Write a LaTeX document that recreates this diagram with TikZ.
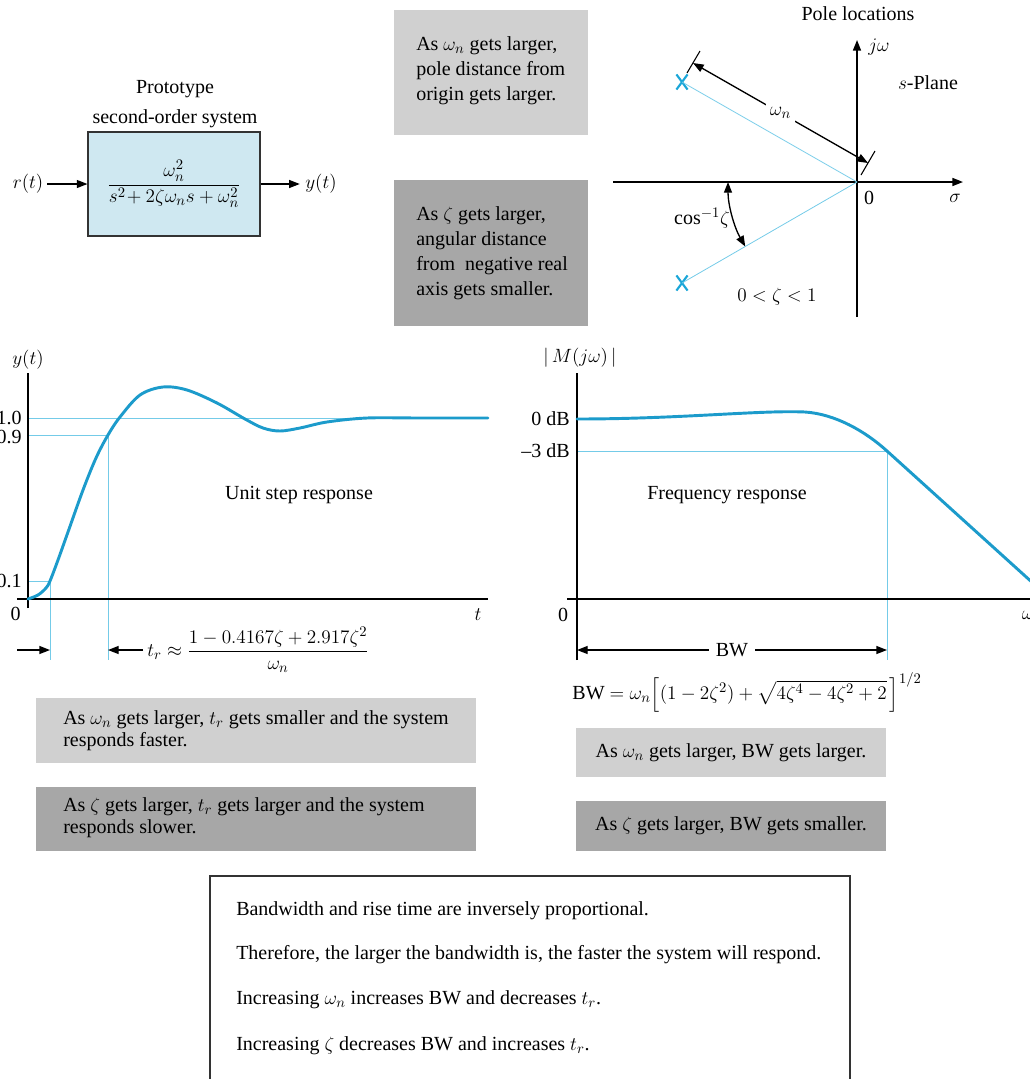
\documentclass[tikz,border=0pt]{standalone}
\usepackage{amsmath}
\usepackage{fontspec}
\setmainfont{Liberation Serif}
\usetikzlibrary{arrows.meta,shapes.misc,calc}
\newdimen\px \px=0.75pt
\definecolor{boxblue}{HTML}{CFE8F1}
\definecolor{curveblue}{HTML}{1C9BCB}
\definecolor{thinblue}{HTML}{74CBE8}
\definecolor{poleblue}{HTML}{1AA6D8}
\definecolor{lgray}{HTML}{D0D0D0}
\definecolor{dgray}{HTML}{A7A7A7}
\begin{document}
\begin{tikzpicture}[x=0.75pt,y=-0.75pt,
  txt/.style={font=\fontsize{15}{18}\selectfont, inner sep=0pt},
  axisline/.style={line width=1.2pt, black},
  guide/.style={thinblue, line width=0.6pt},
  resp/.style={curveblue, line width=2.2pt, line cap=round, line join=round},
  tip/.style={-{Triangle[length=8pt,width=6pt]}},
  dtip/.style={{Triangle[length=8pt,width=6pt]}-{Triangle[length=8pt,width=6pt]}},
  lbox/.style={fill=lgray, draw=none, anchor=north west, inner sep=0pt},
  dbox/.style={fill=dgray, draw=none, anchor=north west, inner sep=0pt},
  pole/.style={cross out, draw=poleblue, line width=1.6pt, minimum width=9\px, minimum height=13\px, inner sep=0pt}
]
\useasboundingbox (0,0) rectangle (1029,1079);

% ---------- block diagram ----------
\node[txt, align=center, font=\fontsize{15}{23}\selectfont] (title) at (175,104) {Prototype\\second-order system};
\node[draw=black!80, fill=boxblue, line width=0.8pt, minimum width=172\px, minimum height=104\px, inner sep=0pt, txt] (sys) at (174,184)
  {$\dfrac{\omega_n^2}{s^2\!+ 2\zeta\omega_n s + \omega_n^2}$};
\node[txt, inner xsep=3pt] (r) at (28,184) {$r(t)$};
\node[txt, inner xsep=4pt] (y) at (321,184) {$y(t)$};
\draw[tip, line width=0.9pt] (r) -- (sys);
\draw[tip, line width=0.9pt] (sys) -- (y);

% ---------- top info boxes ----------
\node[lbox, minimum width=194\px, minimum height=125\px] (b1) at (394,10) {};
\node[txt, anchor=west, align=left, font=\fontsize{15}{18.75}\selectfont] (b1t) at (416,71) {As $\omega_n$ gets larger,\\pole distance from\\origin gets larger.};
\node[dbox, minimum width=194\px, minimum height=146\px] (b2) at (394,180) {};
\node[txt, anchor=west, align=left, font=\fontsize{15}{18.75}\selectfont] (b2t) at (416,253) {As $\zeta$ gets larger,\\angular distance\\from\ \ negative real\\axis gets smaller.};

% ---------- s-plane ----------
\coordinate (O) at (857,182);
\coordinate (sl) at (613,182);
\coordinate (sr) at (963,182);
\coordinate (jb) at (857,317);
\coordinate (jt) at (857,40);
\draw[axisline, tip] (sl) -- (sr);
\draw[axisline, tip] (jb) -- (jt);
\node[txt] (pl) at (858,14) {Pole locations};
\node[txt, anchor=west] (jw) at (868,47) {$j\omega$};
\node[txt] (splane) at (928,83) {$s$-Plane};
\node[txt] (zero) at (869,198) {0};
\node[txt] (sigma) at (955,198) {$\sigma$};
\node[pole] (p1) at (682,82) {};
\node[pole] (p2) at (682,283) {};
\draw[guide] (O) -- (p1.center);
\draw[guide] (O) -- (p2.center);
% omega_n dimension
\coordinate (t1a) at (687,73);
\coordinate (t1b) at (700,51);
\coordinate (t2a) at (861,175);
\coordinate (t2b) at (875,151);
\draw[line width=0.8pt] (t1a) -- (t1b);
\draw[line width=0.8pt] (t2a) -- (t2b);
\coordinate (wa) at (693,63);
\coordinate (wb) at (868,163);
\draw[dtip, line width=1pt] (wa) -- node[txt, fill=white, inner sep=3pt] (wn) {$\omega_n$} (wb);
% angle
\coordinate (ang) at (728,182);
\draw[dtip, line width=1pt] (ang) arc[start angle=180, end angle=150, radius=129];
\node[txt] (cosz) at (702,218) {$\cos^{-1}\!\zeta$};
\node[txt] (zrange) at (777,297) {$0 < \zeta < 1$};

% ---------- step response ----------
\coordinate (yb) at (28,608);
\coordinate (yt) at (28,373);
\coordinate (tl) at (17,599);
\coordinate (tr0) at (488,599);
\draw[guide] (28,418) -- (488,418);
\draw[guide] (28,435) -- (108,435);
\draw[guide] (28,581) -- (50,581);
\draw[guide] (50,581) -- (50,660);
\draw[guide] (108,435) -- (108,660);
\draw[axisline] (yb) -- (yt);
\draw[axisline] (tl) -- (tr0);
\draw[resp] plot[smooth, tension=0.55] coordinates {(28,599) (38,595) (46,588) (50,581) (58,560) (68,532) (83,490) (96,458) (108,435) (120,417) (140,395) (163,387) (187,390) (217,403) (245,419) (263,428) (280,431) (300,428) (327,422) (367,418) (420,418) (488,418)};
\node[txt] (ylab) at (28,360) {$y(t)$};
\node[txt, anchor=east] (l10) at (22,418) {1.0};
\node[txt, anchor=east] (l09) at (22,437) {0.9};
\node[txt, anchor=east] (l01) at (22,581) {0.1};
\node[txt, anchor=east] (l00) at (21,614) {0};
\node[txt] (tlab) at (478,615) {$t$};
\node[txt] (usr) at (299,495) {Unit step response};
\coordinate (a0) at (17,650);
\coordinate (a1) at (50,650);
\draw[tip, line width=1pt] (a0) -- (a1);
\node[txt, anchor=west] (trf) at (147,650) {$t_r \approx \dfrac{1 - 0.4167\zeta + 2.917\zeta^2}{\omega_n}$};
\coordinate (a2) at (108,650);
\draw[tip, line width=1pt] ([xshift=-3pt]trf.west) -- (a2);

% ---------- frequency response ----------
\coordinate (fb) at (577,660);
\coordinate (ft) at (577,373);
\coordinate (fl) at (567,599);
\coordinate (fr) at (1035,599);
\draw[guide] (577,451) -- (887,451);
\draw[guide] (887,451) -- (887,660);
\draw[axisline] (fb) -- (ft);
\draw[axisline] (fl) -- (fr);
\draw[resp] (577,419) .. controls (680,419) and (760,410) .. (805,412)
  .. controls (835,414) and (865,431) .. (887,451) -- (1045,594);
\node[txt] (mlab) at (580,358) {$|\,M(j\omega)\,|$};
\node[txt, anchor=east] (db0) at (570,419) {0 dB};
\node[txt, anchor=east] (db3) at (570,451) {--3 dB};
\node[txt] (fz) at (563,615) {0};
\node[txt] (wlab) at (1028,615) {$\omega$};
\node[txt] (frl) at (727,495) {Frequency response};
\coordinate (bwa) at (577,650);
\coordinate (bwb) at (887,650);
\draw[dtip, line width=1pt] (bwa) -- node[txt, fill=white, inner xsep=5pt, inner ysep=2pt] (bw) {BW} (bwb);
\node[txt] (bwf) at (747,692) {BW $= \omega_n\Bigl[(1 - 2\zeta^2) + \sqrt{4\zeta^4 - 4\zeta^2 + 2}\,\Bigr]^{1/2}$};

% ---------- lower info boxes ----------
\node[lbox, minimum width=440\px, minimum height=65\px] (b3) at (36,698) {};
\node[txt, anchor=west, align=left, font=\fontsize{15}{16.5}\selectfont] (b3t) at (63,731) {As $\omega_n$ gets larger, $t_r$ gets smaller and the system\\responds faster.};
\node[dbox, minimum width=440\px, minimum height=64\px] (b4) at (36,787) {};
\node[txt, anchor=west, align=left, font=\fontsize{15}{16.5}\selectfont] (b4t) at (63,818) {As $\zeta$ gets larger, $t_r$ gets larger and the system\\responds slower.};
\node[lbox, minimum width=310\px, minimum height=49\px] (b5) at (576,728) {};
\node[txt] (b5t) at (731,753) {As $\omega_n$ gets larger, BW gets larger.};
\node[dbox, minimum width=310\px, minimum height=50\px] (b6) at (576,801) {};
\node[txt] (b6t) at (731,826) {As $\zeta$ gets larger, BW gets smaller.};

% ---------- summary box ----------
\draw[black!80, line width=0.8pt] (210,1100) -- (210,876) -- (850,876) -- (850,1100);
\node[txt, anchor=west] (s1) at (236,911) {Bandwidth and rise time are inversely proportional.};
\node[txt, anchor=west] (s2) at (236,955) {Therefore, the larger the bandwidth is, the faster the system will respond.};
\node[txt, anchor=west] (s3) at (236,1000) {Increasing $\omega_n$ increases BW and decreases $t_r$.};
\node[txt, anchor=west] (s4) at (236,1046) {Increasing $\zeta$ decreases BW and increases $t_r$.};
\end{tikzpicture}
\end{document}
